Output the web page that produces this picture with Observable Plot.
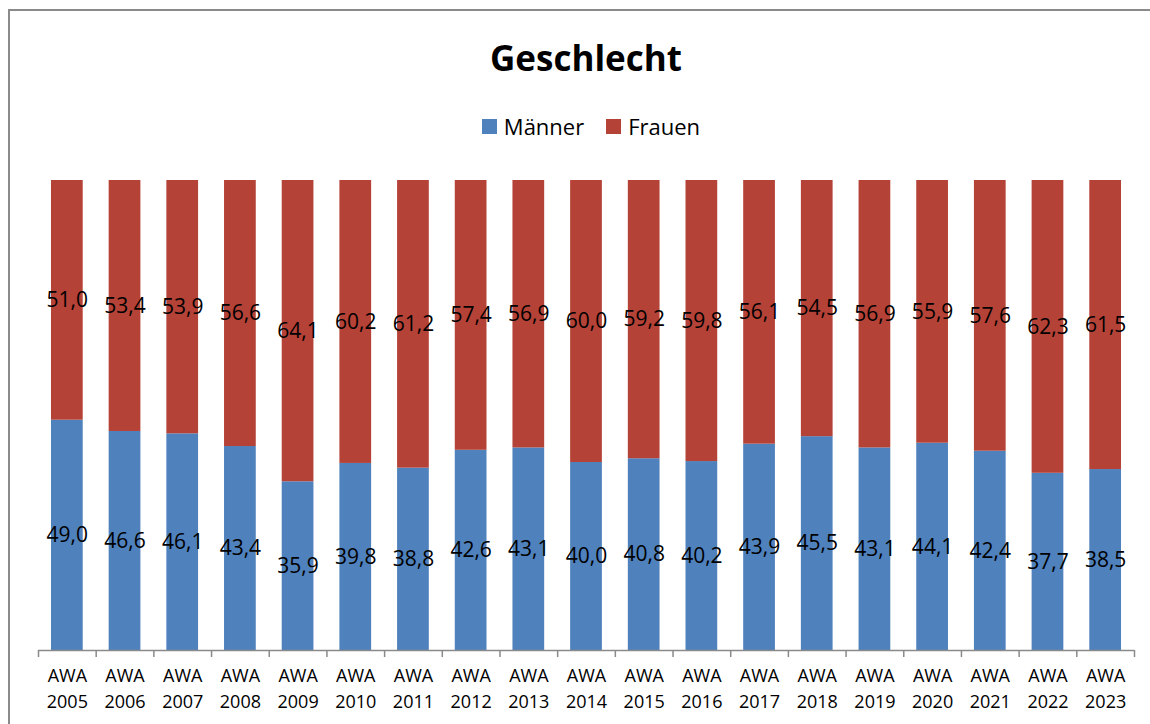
<!DOCTYPE html>
<html>
<head>
<meta charset="utf-8">
<script src="https://cdn.jsdelivr.net/npm/d3@7"></script>
<script src="https://cdn.jsdelivr.net/npm/@observablehq/plot@0.6"></script>
<style>
  html, body { margin: 0; padding: 0; background: #fff; overflow: hidden; width: 1150px; height: 724px; }
  body { position: relative; font-family: "Open Sans", sans-serif; }
  #frame { position: absolute; left: 8px; top: 9px; width: 1200px; height: 800px; border: 2px solid #8a8a8a; box-sizing: border-box; }
  #title { position: absolute; left: 9px; width: 1154px; top: 37px; line-height: 42px; text-align: center; font-weight: bold; font-size: 35px; color: #000; }
  #legend { position: absolute; left: 9px; width: 1164px; top: 111px; height: 30px; display: flex; justify-content: center; align-items: center; font-size: 22px; color: #000; }
  .item { display: flex; align-items: center; margin: 0 11px; }
  .sw { width: 15px; height: 15px; margin-right: 7px; }
  #chart { position: absolute; left: 0; top: 150px; }
</style>
</head>
<body>
<div id="frame"></div>
<div id="title">Geschlecht</div>
<div id="legend"></div>
<div id="chart"></div>
<script>
const categories = ["AWA 2005","AWA 2006","AWA 2007","AWA 2008","AWA 2009","AWA 2010","AWA 2011","AWA 2012","AWA 2013","AWA 2014","AWA 2015","AWA 2016","AWA 2017","AWA 2018","AWA 2019","AWA 2020","AWA 2021","AWA 2022","AWA 2023"];
const series = ["Männer", "Frauen"];
const colors = ["#4F81BD", "#B54237"];
const maenner = [49.0, 46.6, 46.1, 43.4, 35.9, 39.8, 38.8, 42.6, 43.1, 40.0, 40.8, 40.2, 43.9, 45.5, 43.1, 44.1, 42.4, 37.7, 38.5];
const frauen  = [51.0, 53.4, 53.9, 56.6, 64.1, 60.2, 61.2, 57.4, 56.9, 60.0, 59.2, 59.8, 56.1, 54.5, 56.9, 55.9, 57.6, 62.3, 61.5];

const data = [];
categories.forEach((c, i) => {
  data.push({cat: c, series: series[0], value: maenner[i]});
  data.push({cat: c, series: series[1], value: frauen[i]});
});

// legend
const legend = document.getElementById("legend");
series.forEach((s, i) => {
  const it = document.createElement("div");
  it.className = "item";
  it.innerHTML = `<span class="sw" style="background:${colors[i]}"></span><span>${s}</span>`;
  legend.appendChild(it);
});

const W = 1150, H = 574, ML = 38, MR = 16, MT = 30, MB = 74;
const step = (W - ML - MR) / categories.length;
const fmt = v => v.toFixed(1).replace(".", ",");

const chart = Plot.plot({
  width: W, height: H,
  marginLeft: ML, marginRight: MR, marginTop: MT, marginBottom: MB,
  style: {background: "transparent", overflow: "visible", fontFamily: "Open Sans, sans-serif"},
  x: {domain: categories, paddingInner: 0.45, paddingOuter: 0.225, round: false, label: null},
  y: {domain: [0, 100], axis: null},
  color: {domain: series, range: colors},
  marks: [
    Plot.barY(data, {x: "cat", y: "value", fill: "series", order: series}),
    Plot.text(data, Plot.stackY({x: "cat", y: "value", z: "series", order: series, text: d => fmt(d.value), fontSize: 21, fill: "#000"})),
    Plot.ruleY([0], {stroke: "#8a8a8a", strokeWidth: 1.5}),
    Plot.ruleX(categories, {x: d => d, y1: 0, y2: -1.5, dx: -step / 2, stroke: "#8a8a8a", strokeWidth: 1.5}),
    Plot.ruleX(categories.slice(-1), {x: d => d, y1: 0, y2: -1.5, dx: step / 2, stroke: "#8a8a8a", strokeWidth: 1.5}),
    Plot.axisX({tickSize: 0, tickPadding: 13, fontSize: 18, lineHeight: 1.45, fill: "#000", tickFormat: d => d.replace(" ", "\n")})
  ]
});
document.getElementById("chart").appendChild(chart);
</script>
</body>
</html>
